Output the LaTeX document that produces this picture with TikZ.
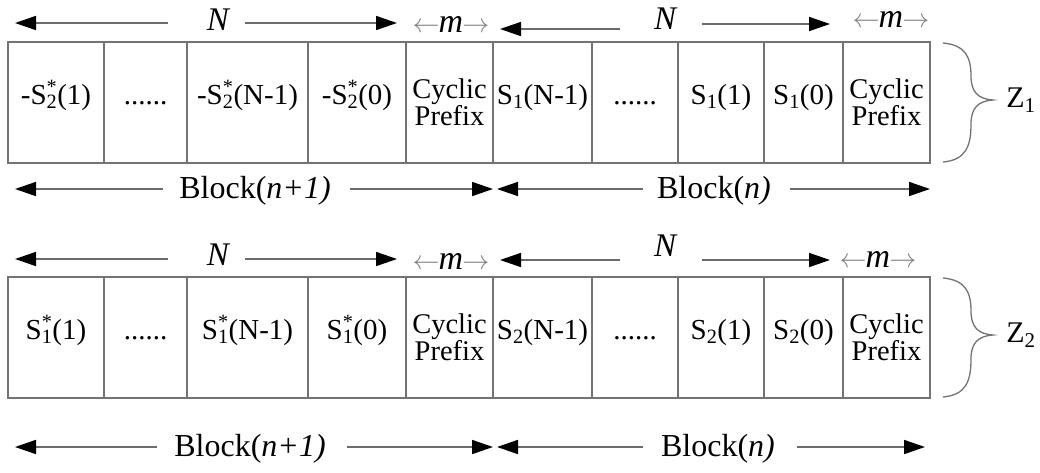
\RequirePackage{fix-cm}
\documentclass[tikz,border=0pt]{standalone}
\usepackage{fontspec}
\setmainfont{Liberation Serif}
\usetikzlibrary{arrows.meta}

\definecolor{boxgray}{gray}{0.45}
\definecolor{linegray}{gray}{0.42}
\definecolor{thinarrow}{gray}{0.5}

% subscript with a superscript stacked above it
\newcommand\subsup[2]{\rlap{\textsuperscript{#2}}\textsubscript{#1}}
% guard-interval width mark: thin arrows around an italic m
\newcommand\mwidth{{\fontsize{27}{27}\selectfont\color{thinarrow}$\leftarrow$}\kern-1pt
  {\fontsize{34}{34}\selectfont\itshape m}\kern-1pt
  {\fontsize{27}{27}\selectfont\color{thinarrow}$\rightarrow$}}
% one slot of a transmitted block: name, left x, right x, row centre, style, text
\newcommand\slotcell[6]{%
  \pgfmathsetmacro\slotw{#3-#2}%
  \pgfmathsetmacro\slotx{(#2+#3)/2}%
  \node[cell,#5,minimum width=\slotw pt] (#1) at (\slotx,#4) {#6};}

\begin{document}
\begin{tikzpicture}[x=1pt,y=-1pt,
  cell/.style={draw=boxgray, line width=1.4pt, inner sep=0pt,
    minimum height=121pt, align=center},
  single/.style={font=\fontsize{29}{25}\selectfont, text height=19pt, text depth=15pt},
  double/.style={font=\fontsize{28.5}{25}\selectfont},
  dimarrow/.style={draw=linegray, line width=1.6pt,
    -{Triangle[length=21pt,width=14pt,color=black]}},
  dimlabel/.style={font=\fontsize{33}{33}\selectfont\itshape, inner sep=0pt},
  mlabel/.style={inner sep=0pt, text=black},
  blocklabel/.style={font=\fontsize{32}{32}\selectfont, inner sep=0pt, anchor=base},
  zlabel/.style={font=\fontsize{30}{30}\selectfont, inner sep=0pt},
  brace/.style={draw=boxgray, line width=1.3pt},
]
\useasboundingbox (0,0) rectangle (1040,472);

% ---------- first stream (Z1) ----------
\slotcell{a1}{8}{104}{102.5}{single}{-S\subsup{2}{*}(1)}
\slotcell{a2}{104}{187}{102.5}{single}{......}
\slotcell{a3}{187}{308}{102.5}{single}{-S\subsup{2}{*}(N-1)}
\slotcell{a4}{308}{406}{102.5}{single}{-S\subsup{2}{*}(0)}
\slotcell{a5}{406}{493}{102.5}{double}{Cyclic\\Prefix}
\slotcell{a6}{493}{592}{102.5}{single}{S\textsubscript{1}(N-1)}
\slotcell{a7}{592}{678}{102.5}{single}{......}
\slotcell{a8}{678}{764}{102.5}{single}{S\textsubscript{1}(1)}
\slotcell{a9}{764}{843}{102.5}{single}{S\textsubscript{1}(0)}
\slotcell{a10}{843}{930}{102.5}{double}{Cyclic\\Prefix}

% lengths above the first stream
\node[dimlabel] (na1) at (218,20) {N};
\coordinate (na1l) at (168,23);  \coordinate (na1lt) at (15,23);
\coordinate (na1r) at (245,23);  \coordinate (na1rt) at (397,23);
\draw[dimarrow] (na1l) -- (na1lt);
\draw[dimarrow] (na1r) -- (na1rt);
\node[mlabel] (ma1) at (451,24) {\mwidth};
\node[dimlabel] (na2) at (665,19) {N};
\coordinate (na2l) at (620,29);  \coordinate (na2lt) at (500,29);
\coordinate (na2r) at (702,24);  \coordinate (na2rt) at (830,24);
\draw[dimarrow] (na2l) -- (na2lt);
\draw[dimarrow] (na2r) -- (na2rt);
\node[mlabel] (ma2) at (891,19) {\mwidth};

% block extents below the first stream
\node[blocklabel] (ba1) at (255,198) {Block(\textit{n+1)}};
\coordinate (ba1l) at (163,189); \coordinate (ba1lt) at (15,189);
\coordinate (ba1r) at (350,189); \coordinate (ba1rt) at (493,189);
\draw[dimarrow] (ba1l) -- (ba1lt);
\draw[dimarrow] (ba1r) -- (ba1rt);
\node[blocklabel] (ba2) at (714,198) {Block(\textit{n)}};
\coordinate (ba2l) at (643,189); \coordinate (ba2lt) at (497,189);
\coordinate (ba2r) at (790,189); \coordinate (ba2rt) at (930,189);
\draw[dimarrow] (ba2l) -- (ba2lt);
\draw[dimarrow] (ba2r) -- (ba2rt);

% brace and stream name
\draw[brace] (943,43) .. controls (966,45) and (971,58) .. (971,76)
  .. controls (971,92) and (978,99) .. (993,100)
  .. controls (978,101) and (971,108) .. (971,124)
  .. controls (971,146) and (966,160) .. (943,162);
\node[zlabel] (z1) at (1021,100) {Z\textsubscript{1}};

% ---------- second stream (Z2) ----------
\slotcell{b1}{8}{104}{337.5}{single}{S\subsup{1}{*}(1)}
\slotcell{b2}{104}{187}{337.5}{single}{......}
\slotcell{b3}{187}{308}{337.5}{single}{S\subsup{1}{*}(N-1)}
\slotcell{b4}{308}{406}{337.5}{single}{S\subsup{1}{*}(0)}
\slotcell{b5}{406}{493}{337.5}{double}{Cyclic\\Prefix}
\slotcell{b6}{493}{592}{337.5}{single}{S\textsubscript{2}(N-1)}
\slotcell{b7}{592}{678}{337.5}{single}{......}
\slotcell{b8}{678}{764}{337.5}{single}{S\textsubscript{2}(1)}
\slotcell{b9}{764}{843}{337.5}{single}{S\textsubscript{2}(0)}
\slotcell{b10}{843}{930}{337.5}{double}{Cyclic\\Prefix}

% lengths above the second stream
\node[dimlabel] (nb1) at (218,255) {N};
\coordinate (nb1l) at (168,259);  \coordinate (nb1lt) at (15,259);
\coordinate (nb1r) at (245,259);  \coordinate (nb1rt) at (397,259);
\draw[dimarrow] (nb1l) -- (nb1lt);
\draw[dimarrow] (nb1r) -- (nb1rt);
\node[mlabel] (mb1) at (451,261) {\mwidth};
\node[dimlabel] (nb2) at (665,246) {N};
\coordinate (nb2l) at (620,260);  \coordinate (nb2lt) at (500,260);
\coordinate (nb2r) at (702,260);  \coordinate (nb2rt) at (830,260);
\draw[dimarrow] (nb2l) -- (nb2lt);
\draw[dimarrow] (nb2r) -- (nb2rt);
\node[mlabel] (mb2) at (878,259) {\mwidth};

% block extents below the second stream
\node[blocklabel] (bb1) at (250,456) {Block(\textit{n+1)}};
\coordinate (bb1l) at (157,447); \coordinate (bb1lt) at (15,447);
\coordinate (bb1r) at (347,447); \coordinate (bb1rt) at (493,447);
\draw[dimarrow] (bb1l) -- (bb1lt);
\draw[dimarrow] (bb1r) -- (bb1rt);
\node[blocklabel] (bb2) at (718,456) {Block(\textit{n)}};
\coordinate (bb2l) at (643,447); \coordinate (bb2lt) at (497,447);
\coordinate (bb2r) at (797,447); \coordinate (bb2rt) at (925,447);
\draw[dimarrow] (bb2l) -- (bb2lt);
\draw[dimarrow] (bb2r) -- (bb2rt);

% brace and stream name
\draw[brace] (943,278) .. controls (966,280) and (971,293) .. (971,311)
  .. controls (971,327) and (978,334) .. (993,335)
  .. controls (978,336) and (971,343) .. (971,359)
  .. controls (971,381) and (966,395) .. (943,397);
\node[zlabel] (z2) at (1021,335) {Z\textsubscript{2}};
\end{tikzpicture}
\end{document}
